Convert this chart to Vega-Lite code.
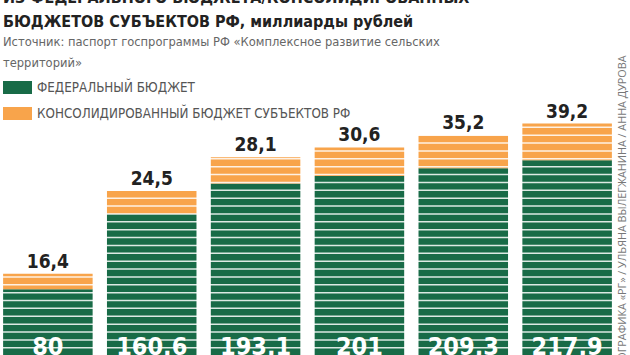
{
  "$schema": "https://vega.github.io/schema/vega-lite/v6.json",
  "width": 615,
  "height": 292,
  "autosize": {"type": "none"},
  "padding": {"left": 0, "top": 72, "right": 15, "bottom": 0},
  "background": "white",
  "config": {
    "view": {"stroke": null},
    "locale": {"number": {"decimal": ",", "thousands": " ", "grouping": [3], "currency": ["", " ₽"]}},
    "font": "DejaVu Sans Condensed, DejaVu Sans"
  },
  "title": {
    "text": ["ИЗ ФЕДЕРАЛЬНОГО БЮДЖЕТА/КОНСОЛИДИРОВАННЫХ", "БЮДЖЕТОВ СУБЪЕКТОВ РФ, миллиарды рублей"],
    "subtitle": ["Источник: паспорт госпрограммы РФ «Комплексное развитие сельских", "территорий»"],
    "anchor": "start",
    "frame": "group",
    "offset": -15,
    "dx": 3,
    "font": "DejaVu Sans Condensed, DejaVu Sans",
    "fontSize": 16,
    "fontWeight": "bold",
    "lineHeight": 24,
    "color": "#222222",
    "subtitleFont": "DejaVu Sans Condensed, DejaVu Sans",
    "subtitleFontSize": 12.8,
    "subtitleLineHeight": 21,
    "subtitleColor": "#666666",
    "subtitlePadding": 6
  },
  "datasets": {
    "budget": [
      {"year": "2020", "type": "ФЕДЕРАЛЬНЫЙ БЮДЖЕТ", "value": 80},
      {"year": "2020", "type": "КОНСОЛИДИРОВАННЫЙ БЮДЖЕТ СУБЪЕКТОВ РФ", "value": 16.4},
      {"year": "2021", "type": "ФЕДЕРАЛЬНЫЙ БЮДЖЕТ", "value": 160.6},
      {"year": "2021", "type": "КОНСОЛИДИРОВАННЫЙ БЮДЖЕТ СУБЪЕКТОВ РФ", "value": 24.5},
      {"year": "2022", "type": "ФЕДЕРАЛЬНЫЙ БЮДЖЕТ", "value": 193.1},
      {"year": "2022", "type": "КОНСОЛИДИРОВАННЫЙ БЮДЖЕТ СУБЪЕКТОВ РФ", "value": 28.1},
      {"year": "2023", "type": "ФЕДЕРАЛЬНЫЙ БЮДЖЕТ", "value": 201},
      {"year": "2023", "type": "КОНСОЛИДИРОВАННЫЙ БЮДЖЕТ СУБЪЕКТОВ РФ", "value": 30.6},
      {"year": "2024", "type": "ФЕДЕРАЛЬНЫЙ БЮДЖЕТ", "value": 209.3},
      {"year": "2024", "type": "КОНСОЛИДИРОВАННЫЙ БЮДЖЕТ СУБЪЕКТОВ РФ", "value": 35.2},
      {"year": "2025", "type": "ФЕДЕРАЛЬНЫЙ БЮДЖЕТ", "value": 217.9},
      {"year": "2025", "type": "КОНСОЛИДИРОВАННЫЙ БЮДЖЕТ СУБЪЕКТОВ РФ", "value": 39.2}
    ],
    "stripes": [
      {"v": 8.9}, {"v": 17.4}, {"v": 25.8}, {"v": 34.2}, {"v": 42.6}, {"v": 51.0},
      {"v": 59.5}, {"v": 67.9}, {"v": 76.3}, {"v": 84.7}, {"v": 93.1}, {"v": 101.6},
      {"v": 110.0}, {"v": 118.4}, {"v": 126.8}, {"v": 135.2}, {"v": 143.7}, {"v": 152.1},
      {"v": 160.5}, {"v": 168.9}, {"v": 177.3}, {"v": 185.8}, {"v": 194.2}, {"v": 202.6},
      {"v": 211.0}, {"v": 219.4}, {"v": 227.9}, {"v": 236.3}, {"v": 244.7}, {"v": 253.1}
    ]
  },
  "resolve": {"axis": {"y": "independent"}},
  "layer": [
    {
      "data": {"name": "budget"},
      "mark": {"type": "bar"},
      "encoding": {
        "x": {"field": "year", "type": "nominal", "axis": null,
              "scale": {"paddingInner": 0.138, "paddingOuter": 0.03}},
        "y": {"field": "value", "type": "quantitative", "stack": "zero",
              "scale": {"domain": [0, 312.3], "nice": false, "zero": true},
              "axis": {"orient": "right", "labels": false, "ticks": false, "domain": false, "grid": false,
                       "title": "ИНФОГРАФИКА «РГ» / УЛЬЯНА ВЫЛЕГЖАНИНА / АННА ДУРОВА",
                       "titleAngle": 270, "titleAlign": "right", "titleBaseline": "middle",
                       "titleX": 7, "titleY": -17, "titleFont": "Open Sans", "titleFontSize": 10.8,
                       "titleFontWeight": "normal", "titleColor": "#777777"}},
        "color": {"field": "type", "type": "nominal",
                  "scale": {"domain": ["ФЕДЕРАЛЬНЫЙ БЮДЖЕТ", "КОНСОЛИДИРОВАННЫЙ БЮДЖЕТ СУБЪЕКТОВ РФ"],
                            "range": ["#186b47", "#f8a44b"]},
                  "legend": {"orient": "none", "legendX": 3, "legendY": 1, "title": null,
                             "symbolType": "M-1,-0.45H1V0.45H-1Z", "symbolSize": 841,
                             "symbolStrokeWidth": 0, "symbolOpacity": 1,
                             "labelFont": "DejaVu Sans Condensed, DejaVu Sans",
                             "labelFontSize": 13.3, "labelColor": "#555555", "labelOffset": 5,
                             "rowPadding": 4, "labelLimit": 500}},
        "order": {"field": "type", "sort": "descending"}
      }
    },
    {
      "data": {"name": "stripes"},
      "mark": {"type": "rule", "color": "white", "strokeWidth": 1.5, "opacity": 0.85},
      "encoding": {
        "y": {"field": "v", "type": "quantitative", "axis": null}
      }
    },
    {
      "data": {"name": "budget"},
      "mark": {"type": "text", "baseline": "alphabetic", "dy": -6, "fontSize": 19, "fontWeight": "bold", "color": "#222222"},
      "encoding": {
        "x": {"field": "year", "type": "nominal"},
        "y": {"field": "value", "type": "quantitative", "stack": "zero", "axis": null},
        "detail": {"field": "type"},
        "order": {"field": "type", "sort": "descending"},
        "text": {"condition": {"test": "datum.type === 'ФЕДЕРАЛЬНЫЙ БЮДЖЕТ'", "value": ""},
                 "field": "value", "type": "quantitative", "format": ".1f"}
      }
    },
    {
      "data": {"name": "budget"},
      "transform": [{"filter": {"field": "type", "equal": "ФЕДЕРАЛЬНЫЙ БЮДЖЕТ"}}],
      "mark": {"type": "text", "baseline": "alphabetic", "dy": -9, "fontSize": 25, "fontWeight": "bold", "color": "white"},
      "encoding": {
        "x": {"field": "year", "type": "nominal"},
        "y": {"datum": 0, "type": "quantitative", "axis": null},
        "text": {"field": "value", "type": "quantitative", "format": ".1~f"}
      }
    }
  ]
}
